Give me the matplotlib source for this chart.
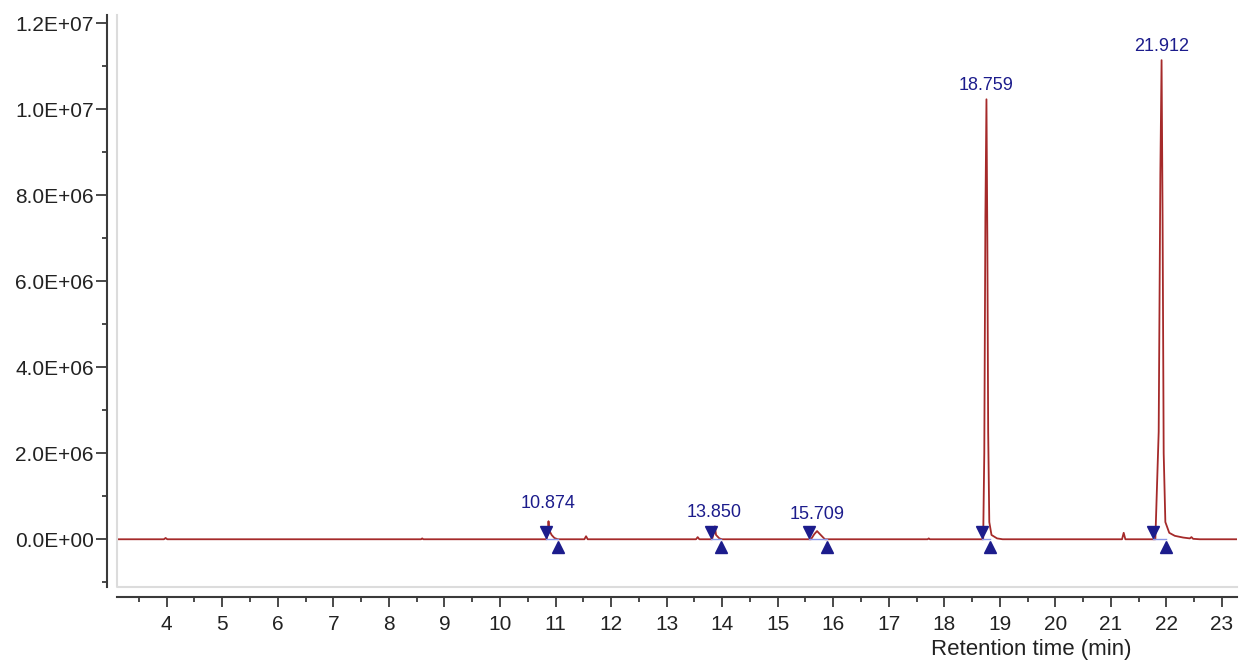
import numpy as np
import matplotlib.pyplot as plt
from matplotlib.ticker import MultipleLocator, FuncFormatter

# chromatogram trace (time in min, intensity in counts)
trace_time = [3.10, 3.95, 3.98, 4.01, 8.58, 8.60, 8.62, 10.84, 10.86, 10.874, 10.89,
              10.93, 10.98, 11.04, 11.52, 11.55, 11.58, 13.53, 13.56, 13.59, 13.82,
              13.85, 13.87, 13.89, 13.95, 14.00, 15.60, 15.66, 15.709, 15.76, 15.85,
              17.70, 17.72, 17.74, 18.70, 18.72, 18.74, 18.759, 18.775, 18.79, 18.81,
              18.85, 18.95, 19.05, 21.20, 21.23, 21.26, 21.80, 21.86, 21.89, 21.912,
              21.93, 21.95, 21.98, 22.05, 22.15, 22.30, 22.42, 22.45, 22.48, 22.60, 23.27]
trace_int = [0.0, 0.0, 0.03, 0.0, 0.0, 0.02, 0.0, 0.0, 0.15, 0.42, 0.20,
             0.10, 0.03, 0.0, 0.0, 0.07, 0.0, 0.0, 0.05, 0.0, 0.0,
             0.15, 0.30, 0.10, 0.02, 0.0, 0.0, 0.12, 0.19, 0.12, 0.0,
             0.0, 0.02, 0.0, 0.0, 2.0, 7.5, 10.23, 7.0, 2.5, 0.4,
             0.10, 0.02, 0.0, 0.0, 0.15, 0.0, 0.0, 2.5, 8.5, 11.14,
             7.5, 2.0, 0.4, 0.15, 0.08, 0.04, 0.02, 0.05, 0.01, 0.0, 0.0]
trace_int = [v * 1e6 for v in trace_int]

# integrated peaks
peak_rt = [10.874, 13.850, 15.709, 18.759, 21.912]
peak_label = ['10.874', '13.850', '15.709', '18.759', '21.912']
peak_label_y = [0.84e6, 0.62e6, 0.57e6, 10.55e6, 11.45e6]
peak_start = [10.83, 13.80, 15.56, 18.68, 21.76]
peak_end = [11.04, 13.98, 15.88, 18.82, 21.99]

red = '#a52a2a'
navy = '#1c1c8c'
font = 'Liberation Sans'

fig = plt.figure(figsize=(12.39, 6.63), dpi=100)
ax = fig.add_axes([117/1239, 1 - 587/663, 1120/1239, 572/663])

ax.plot(trace_time, trace_int, color=red, lw=1.3)

# baseline of integration
for s, e in zip(peak_start, peak_end):
    ax.plot([s, e], [0, 0], color='#8a96e6', lw=1.0)

ax.plot(peak_start, [0.18e6] * len(peak_start), 'v', color=navy, ms=8, mec=navy)
ax.plot(peak_end, [-0.19e6] * len(peak_end), '^', color=navy, ms=8, mec=navy)

for x, y, lab in zip(peak_rt, peak_label_y, peak_label):
    ax.text(x, y, lab, ha='center', va='center', color=navy,
            fontsize=13, family=font)

ax.set_xlim(3.105, 23.27)
ax.set_ylim(-1.11e6, 12.19e6)

ax.xaxis.set_major_locator(MultipleLocator(1))
ax.xaxis.set_minor_locator(MultipleLocator(0.5))
ax.yaxis.set_major_locator(MultipleLocator(2e6))
ax.yaxis.set_minor_locator(MultipleLocator(1e6))
ax.yaxis.set_major_formatter(FuncFormatter(
    lambda v, p: '%.1E' % v if abs(v) > 0 else '0.0E+00'))
ax.xaxis.set_major_formatter(FuncFormatter(lambda v, p: '%d' % round(v)))

for sp in ['top', 'right']:
    ax.spines[sp].set_visible(False)
ax.spines['left'].set_position(('outward', 7.2))
ax.spines['bottom'].set_position(('outward', 7.2))
for sp in ['left', 'bottom']:
    ax.spines[sp].set_color('#3a3a3a')
    ax.spines[sp].set_linewidth(1.5)

# light frame of the plotting area
ax.plot([0, 0, 1], [1, 0, 0], transform=ax.transAxes, color='#dcdcdc',
        lw=1.5, clip_on=False)

ax.tick_params(axis='y', which='major', length=8, width=1.3, color='#3a3a3a',
               pad=1.5, labelsize=15)
ax.tick_params(axis='y', which='minor', length=3.5, width=1.3, color='#3a3a3a')
ax.tick_params(axis='x', which='major', length=7, width=1.3, color='#3a3a3a',
               pad=6, labelsize=15)
ax.tick_params(axis='x', which='minor', length=3.5, width=1.3, color='#3a3a3a')
for lab in ax.get_xticklabels() + ax.get_yticklabels():
    lab.set_family(font)
    lab.set_color('#222222')

ax.set_xlabel('Retention time (min)', fontsize=16, family=font, color='#222222')
ax.xaxis.set_label_coords(0.816, -0.110)
ax.xaxis.label.set_va('center')

fig.savefig('out.png', dpi=100)
